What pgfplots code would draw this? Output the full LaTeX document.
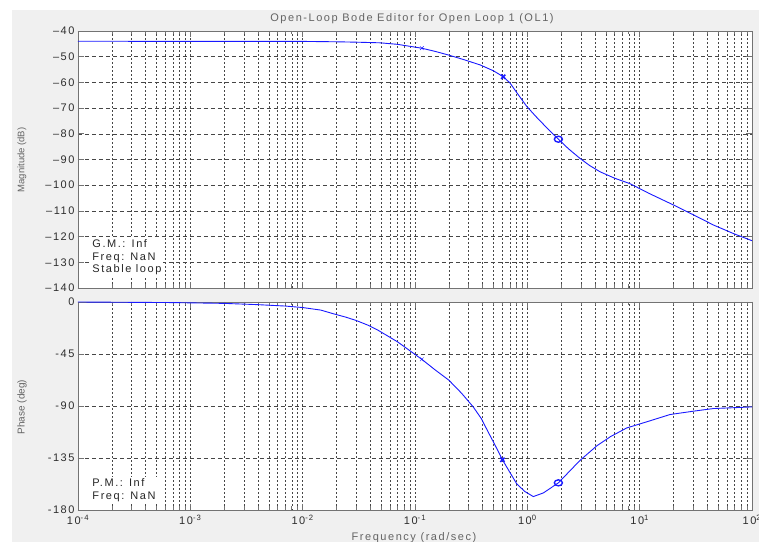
\documentclass[border=0pt]{standalone}
\usepackage{pgfplots}
\pgfplotsset{compat=1.18}
\usepackage{fontspec}
\setmainfont{Liberation Sans}[LetterSpace=14]
\newfontfamily\plainsans{Liberation Sans}
\definecolor{panel}{RGB}{240,240,240}
\definecolor{gridc}{RGB}{70,70,70}
\definecolor{axisc}{RGB}{115,115,115}
\definecolor{tickc}{RGB}{45,45,45}
\definecolor{titlec}{RGB}{100,100,100}
\definecolor{curve}{RGB}{25,25,255}
\newcommand{\lbl}{\fontsize{11bp}{12.7bp}\selectfont}
\begin{document}
\begin{tikzpicture}
\useasboundingbox (0,0) rectangle (759bp,542bp);
\fill[white] (0,0) rectangle (759bp,542bp);
\fill[panel] (12bp,0) rectangle (759bp,532bp);
% Magnitude
\begin{axis}[at={(78bp,254bp)}, anchor=south west, scale only axis, width=674bp, height=257bp,
  xmode=log, xmin=1e-4, xmax=1e2,
  axis line style={axisc, line width=0.8pt},
  tick style={axisc, line width=0.6pt},
  major tick length=6bp, minor tick length=3.5bp,
  tick align=inside, xtick pos=both, ytick pos=both,
  xtick={1e-4,1e-3,1e-2,1e-1,1,10,100},
  minor xtick={2e-4,3e-4,4e-4,5e-4,6e-4,7e-4,8e-4,9e-4,
               2e-3,3e-3,4e-3,5e-3,6e-3,7e-3,8e-3,9e-3,
               2e-2,3e-2,4e-2,5e-2,6e-2,7e-2,8e-2,9e-2,
               0.2,0.3,0.4,0.5,0.6,0.7,0.8,0.9,
               2,3,4,5,6,7,8,9,
               20,30,40,50,60,70,80,90},
  xmajorgrids, xminorgrids, ymajorgrids,
  major x grid style={gridc, line width=0.55pt, dash pattern=on 1.5bp off 2.5bp},
  minor x grid style={gridc, line width=0.55pt, dash pattern=on 1.5bp off 2.5bp},
  major y grid style={gridc, line width=0.55pt, dash pattern=on 4bp off 3bp},
  ticklabel style={font=\lbl, text=tickc},
  axis background/.style={fill=white},
  ymin=-140, ymax=-40, ytick={-140,-130,-120,-110,-100,-90,-80,-70,-60,-50,-40},
  yticklabels={\textendash140,\textendash130,\textendash120,\textendash110,\textendash100,\textendash90,\textendash80,\textendash70,\textendash60,\textendash50,\textendash40},
  xticklabels={}]
\addplot[curve, line width=0.9pt] coordinates {
 (1e-4,-44) (1e-2,-44.05) (0.02,-44.2) (0.03,-44.35) (0.049,-44.6) (0.07,-45.2)
 (0.115,-46.7) (0.15,-47.9) (0.197,-49.3) (0.27,-51.1) (0.38,-53.2) (0.5,-55.5)
 (0.61,-57.8) (0.70,-60.2) (0.8,-63.8) (0.99,-69.4) (1.2,-73.4) (1.5,-77.8)
 (1.89,-82.1) (2.32,-85.8) (2.95,-89.6) (3.6,-92.4) (4.45,-94.8) (6,-97.3)
 (8.2,-99.4) (12,-103.1) (20,-107.7) (30,-111.5) (45.4,-115.5) (70,-119) (100,-121.6)};
\addplot[curve, only marks, mark=x, mark size=2.6bp, line width=0.5pt] coordinates {(0.115,-46.7)};
\addplot[curve, only marks, mark=x, mark size=3bp, line width=1.6pt] coordinates {(0.61,-57.8)};
\addplot[curve, only marks, mark=o, mark size=3bp, line width=1.4pt, mark options={xscale=1.35}] coordinates {(1.89,-82.1)};
\node[anchor=north west, fill=white, inner sep=1.5bp, align=left, font=\lbl, text=black!85] at (rel axis cs:0.019,0.195) {G.M.: Inf\\Freq: NaN\\Stable loop};
\end{axis}
% Phase
\begin{axis}[at={(78bp,32bp)}, anchor=south west, scale only axis, width=674bp, height=208bp,
  xmode=log, xmin=1e-4, xmax=1e2,
  axis line style={axisc, line width=0.8pt},
  tick style={axisc, line width=0.6pt},
  major tick length=6bp, minor tick length=3.5bp,
  tick align=inside, xtick pos=both, ytick pos=both,
  xtick={1e-4,1e-3,1e-2,1e-1,1,10,100},
  minor xtick={2e-4,3e-4,4e-4,5e-4,6e-4,7e-4,8e-4,9e-4,
               2e-3,3e-3,4e-3,5e-3,6e-3,7e-3,8e-3,9e-3,
               2e-2,3e-2,4e-2,5e-2,6e-2,7e-2,8e-2,9e-2,
               0.2,0.3,0.4,0.5,0.6,0.7,0.8,0.9,
               2,3,4,5,6,7,8,9,
               20,30,40,50,60,70,80,90},
  xmajorgrids, xminorgrids, ymajorgrids,
  major x grid style={gridc, line width=0.55pt, dash pattern=on 1.5bp off 2.5bp},
  minor x grid style={gridc, line width=0.55pt, dash pattern=on 1.5bp off 2.5bp},
  major y grid style={gridc, line width=0.55pt, dash pattern=on 4bp off 3bp},
  ticklabel style={font=\lbl, text=tickc},
  axis background/.style={fill=white},
  ymin=-180, ymax=0, ytick={-180,-135,-90,-45,0},
  yticklabels={-180,-135,-90,-45,0},
  xticklabels={10\textsuperscript{-4},10\textsuperscript{-3},10\textsuperscript{-2},10\textsuperscript{-1},10\textsuperscript{0},10\textsuperscript{1},10\textsuperscript{2}},
  xticklabel style={yshift=-2bp}]
\addplot[curve, line width=0.9pt] coordinates {
 (1e-4,0) (7e-4,-0.5) (2e-3,-1.2) (4e-3,-2.3) (7e-3,-3.5) (0.01,-4.8) (0.0145,-7)
 (0.0188,-10.2) (0.024,-13) (0.030,-16) (0.038,-20) (0.047,-24.5) (0.07,-34.5)
 (0.115,-49.6) (0.15,-58.5) (0.2,-67.6) (0.26,-79) (0.33,-90.8) (0.39,-101)
 (0.44,-111) (0.52,-124.5) (0.60,-136.5) (0.7,-147.5) (0.805,-157.4) (0.95,-164)
 (1.13,-168.4) (1.39,-165.2) (1.89,-156.5) (2.4,-146) (2.95,-137) (4.15,-124.5)
 (5.5,-116.5) (7.67,-109) (12,-103.2) (18.6,-97.4) (30,-94.5) (45.4,-92.2) (100,-90.8)};
\addplot[curve, only marks, mark=x, mark size=2.6bp, line width=0.5pt] coordinates {(0.115,-49.6)};
\addplot[curve, only marks, mark=x, mark size=3bp, line width=1.6pt] coordinates {(0.60,-136.5)};
\addplot[curve, only marks, mark=o, mark size=3bp, line width=1.4pt, mark options={xscale=1.35}] coordinates {(1.89,-156.5)};
\node[anchor=north west, fill=white, inner sep=1.5bp, align=left, font=\lbl, text=black!85] at (rel axis cs:0.019,0.16) {P.M.: Inf\\Freq: NaN};
\end{axis}
% Titles and labels
\node[font=\lbl, text=titlec] at (412bp,523bp) {Open-Loop Bode Editor for Open Loop 1 (OL1)};
\node[font=\lbl, text=titlec] at (414bp,4bp) {Frequency (rad/sec)};
\node[rotate=90, font=\plainsans\fontsize{9.5bp}{11bp}\selectfont, text=titlec] at (22bp,382bp) {Magnitude (dB)};
\node[rotate=90, font=\plainsans\fontsize{10bp}{12bp}\selectfont, text=titlec] at (22bp,135bp) {Phase (deg)};
\end{tikzpicture}
\end{document}
